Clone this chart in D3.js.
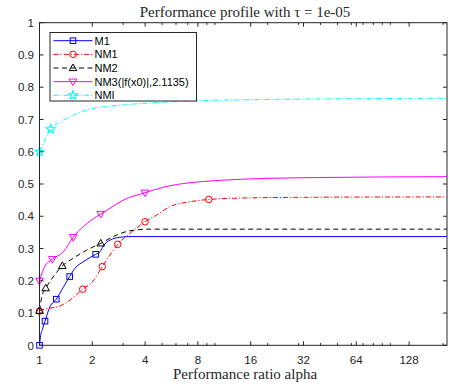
<!DOCTYPE html>
<html>
<head>
<meta charset="utf-8">
<script src="https://cdn.jsdelivr.net/npm/d3@7"></script>
<style>
  body { margin: 0; background: #fff; }
  svg { display: block; }
</style>
</head>
<body>
<svg></svg>
<script>
const width = 449;
const height = 387;
const svg = d3.select("svg").attr("width", width).attr("height", height);

// data (alpha, rho) + which points carry a marker
const m1Alpha = [1, 1.015, 1.04, 1.075, 1.148, 1.247, 1.367, 1.486, 1.594, 1.776, 2.09, 2.213, 2.311, 2.525, 2.877, 3.28, 210];
const m1Rho = [0, 0.03, 0.05, 0.075, 0.12, 0.143, 0.18, 0.213, 0.239, 0.259, 0.282, 0.29, 0.308, 0.326, 0.335, 0.337, 0.337];
const m1Marks = [1, 1.075, 1.247, 1.486, 2.09];

const nm1Alpha = [1, 1.007, 1.148, 1.309, 1.492, 1.764, 2.026, 2.281, 2.525, 2.792, 3.28, 3.995, 4.66, 5.54, 7.2, 9.23, 15.8, 38, 210];
const nm1Rho = [0.106, 0.107, 0.115, 0.122, 0.14, 0.174, 0.2, 0.244, 0.28, 0.313, 0.347, 0.383, 0.404, 0.43, 0.445, 0.452, 0.457, 0.459, 0.46];
const nm1Marks = [1, 1.764, 2.281, 2.792, 3.995, 9.23];

const nm2Alpha = [1, 1.03, 1.085, 1.148, 1.349, 1.558, 1.858, 2.234, 2.755, 3.28, 4.27, 210];
const nm2Rho = [0.107, 0.15, 0.177, 0.198, 0.246, 0.27, 0.295, 0.316, 0.342, 0.355, 0.36, 0.36];
const nm2Marks = [1, 1.085, 1.349, 2.234];

const nm3Alpha = [1, 1.04, 1.085, 1.183, 1.367, 1.558, 1.776, 2.234, 2.525, 3.0, 3.995, 5.08, 7.2, 9.8, 20.6, 38, 210];
const nm3Rho = [0.2, 0.228, 0.249, 0.267, 0.29, 0.335, 0.368, 0.407, 0.425, 0.45, 0.473, 0.49, 0.504, 0.51, 0.5176, 0.52, 0.5227];
const nm3Marks = [1, 1.183, 1.558, 2.234, 3.995];

const nmiAlpha = [1, 1.061, 1.158, 1.32, 1.572, 1.874, 3.0, 4.5, 8.04, 25.7, 210];
const nmiRho = [0.6, 0.631, 0.67, 0.693, 0.714, 0.73, 0.745, 0.752, 0.758, 0.7626, 0.7657];
const nmiMarks = [1, 1.158];

const seriesNames = ["M1", "NM1", "NM2", "NM3(|f(x0)|,2.1135)", "NMI"];
const xTicks = [1, 2, 4, 8, 16, 32, 64, 128];
const xMinor = [3, 5, 6, 7, 9, 10, 20, 30, 40, 50, 60, 70, 80, 90, 100, 200];
const yTicks = [0, 0.1, 0.2, 0.3, 0.4, 0.5, 0.6, 0.7, 0.8, 0.9, 1];

const plotLeft = 39.5, plotRight = 447, plotTop = 22.7, plotBottom = 345.3;
const x = d3.scaleLog().base(2).domain([1, 210.5]).range([plotLeft, plotRight]);
const y = d3.scaleLinear().domain([0, 1]).range([plotBottom, plotTop]);

const axisColor = "#262626";
const sans = "'Liberation Sans', Arial, sans-serif";
const serif = "'Liberation Serif', 'Times New Roman', serif";

const series = [
  { name: seriesNames[0], a: m1Alpha, r: m1Rho, marks: m1Marks, color: "#0000ff", dash: null, marker: "square" },
  { name: seriesNames[1], a: nm1Alpha, r: nm1Rho, marks: nm1Marks, color: "#ff0000", dash: "5,2,1.2,2", marker: "circle" },
  { name: seriesNames[2], a: nm2Alpha, r: nm2Rho, marks: nm2Marks, color: "#000000", dash: "5,3.5", marker: "up" },
  { name: seriesNames[3], a: nm3Alpha, r: nm3Rho, marks: nm3Marks, color: "#ff00ff", dash: null, marker: "down" },
  { name: seriesNames[4], a: nmiAlpha, r: nmiRho, marks: nmiMarks, color: "#00ffff", dash: "5,2,1.2,2", marker: "star" }
];

const line = d3.line()
  .x(d => x(d[0]))
  .y(d => y(d[1]))
  .curve(d3.curveMonotoneX);

function drawMarker(g, type, cx, cy, color) {
  if (type === "square") {
    g.append("rect").attr("x", cx - 2.8).attr("y", cy - 2.8).attr("width", 5.6).attr("height", 5.6)
      .attr("fill", "none").attr("stroke", color).attr("stroke-width", 1);
  } else if (type === "circle") {
    g.append("circle").attr("cx", cx).attr("cy", cy).attr("r", 3.3)
      .attr("fill", "none").attr("stroke", color).attr("stroke-width", 1);
  } else if (type === "up") {
    g.append("path").attr("d", `M${cx},${cy - 4}L${cx + 3.8},${cy + 2.6}L${cx - 3.8},${cy + 2.6}Z`)
      .attr("fill", "none").attr("stroke", color).attr("stroke-width", 1);
  } else if (type === "down") {
    g.append("path").attr("d", `M${cx},${cy + 4}L${cx + 3.8},${cy - 2.6}L${cx - 3.8},${cy - 2.6}Z`)
      .attr("fill", "none").attr("stroke", color).attr("stroke-width", 1);
  } else if (type === "star") {
    const pts = [];
    for (let i = 0; i < 10; i++) {
      const ang = -Math.PI / 2 + i * Math.PI / 5;
      const rr = i % 2 === 0 ? 4.6 : 2.0;
      pts.push([cx + rr * Math.cos(ang), cy + rr * Math.sin(ang)]);
    }
    g.append("path").attr("d", "M" + pts.join("L") + "Z")
      .attr("fill", "none").attr("stroke", color).attr("stroke-width", 1.2);
  }
}

const plot = svg.append("g");
series.forEach(s => {
  const data = s.a.map((a, i) => [a, s.r[i]]);
  plot.append("path").datum(data)
    .attr("d", line)
    .attr("fill", "none")
    .attr("stroke", s.color)
    .attr("stroke-width", 1)
    .attr("stroke-dasharray", s.dash);
  s.marks.forEach(a => {
    const i = s.a.indexOf(a);
    drawMarker(plot, s.marker, x(a), y(s.r[i]), s.color);
  });
});

// axes (ticks inward, box on)
const axes = svg.append("g");
axes.append("rect").attr("x", plotLeft).attr("y", plotTop)
  .attr("width", plotRight - plotLeft).attr("height", plotBottom - plotTop)
  .attr("fill", "none").attr("stroke", axisColor).attr("stroke-width", 1);

xTicks.forEach(t => {
  axes.append("line").attr("x1", x(t)).attr("x2", x(t)).attr("y1", plotBottom).attr("y2", plotBottom - 4).attr("stroke", axisColor);
  axes.append("line").attr("x1", x(t)).attr("x2", x(t)).attr("y1", plotTop).attr("y2", plotTop + 4).attr("stroke", axisColor);
  axes.append("text").attr("x", x(t)).attr("y", plotBottom + 19)
    .attr("text-anchor", "middle").attr("font-family", sans).attr("font-size", 11.6)
    .attr("fill", axisColor).text(t);
});
xMinor.forEach(t => {
  axes.append("line").attr("x1", x(t)).attr("x2", x(t)).attr("y1", plotBottom).attr("y2", plotBottom - 2.2).attr("stroke", axisColor);
  axes.append("line").attr("x1", x(t)).attr("x2", x(t)).attr("y1", plotTop).attr("y2", plotTop + 2.2).attr("stroke", axisColor);
});
yTicks.forEach(t => {
  axes.append("line").attr("x1", plotLeft).attr("x2", plotLeft + 4).attr("y1", y(t)).attr("y2", y(t)).attr("stroke", axisColor);
  axes.append("line").attr("x1", plotRight).attr("x2", plotRight - 4).attr("y1", y(t)).attr("y2", y(t)).attr("stroke", axisColor);
  axes.append("text").attr("x", plotLeft - 5.5).attr("y", y(t) + 4.2)
    .attr("text-anchor", "end").attr("font-family", sans).attr("font-size", 11.6)
    .attr("fill", axisColor).text(d3.format("~g")(t));
});

// title and x label
svg.append("text").attr("x", 245).attr("y", 16.5).attr("text-anchor", "middle")
  .attr("font-family", serif).attr("font-size", 15).attr("fill", axisColor)
  .text("Performance profile with \u03c4 = 1e-05");
svg.append("text").attr("x", 245).attr("y", 378.5).attr("text-anchor", "middle")
  .attr("font-family", serif).attr("font-size", 15).attr("fill", axisColor)
  .text("Performance ratio alpha");

// legend
const legend = svg.append("g");
legend.append("rect").attr("x", 50).attr("y", 32.5).attr("width", 146.5).attr("height", 68.5)
  .attr("fill", "#fff").attr("stroke", axisColor).attr("stroke-width", 1);
series.forEach((s, i) => {
  const ly = 40.7 + i * 13.65;
  legend.append("line").attr("x1", 53.5).attr("x2", 92.5).attr("y1", ly).attr("y2", ly)
    .attr("stroke", s.color).attr("stroke-width", 1).attr("stroke-dasharray", s.dash);
  drawMarker(legend, s.marker, 73, ly, s.color);
  legend.append("text").attr("x", 94.5).attr("y", ly + 4)
    .attr("font-family", sans).attr("font-size", 11).attr("fill", "#000").text(s.name);
});
</script>
</body>
</html>
